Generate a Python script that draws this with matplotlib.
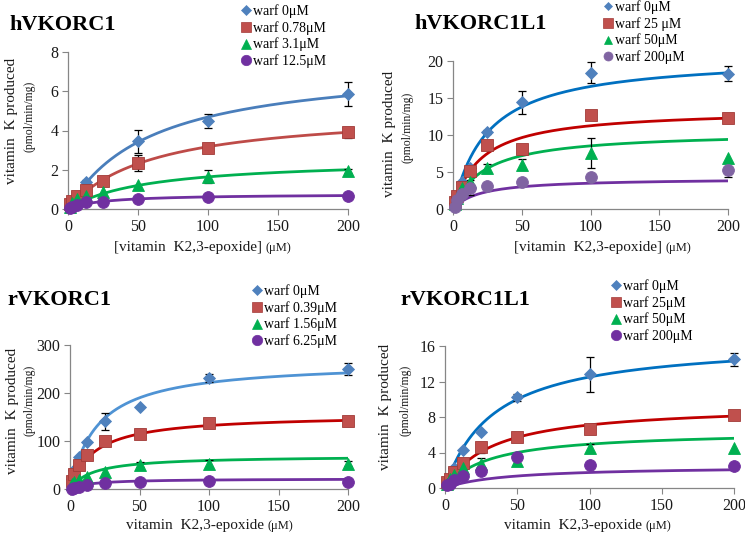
import numpy as np
import matplotlib
matplotlib.use("Agg")
import matplotlib.pyplot as plt
from matplotlib.lines import Line2D

nan = np.nan
plt.rcParams['font.family'] = ['Liberation Serif', 'DejaVu Serif']

# substrate concentrations (uM)
conc = [1.5625, 3.125, 6.25, 12.5, 25, 50, 100, 200]
x_ticks = [0, 50, 100, 150, 200]

# ---- hVKORC1 ----
hv1_labels = ['warf 0μM', 'warf 0.78μM', 'warf 3.1μM', 'warf 12.5μM']
hv1_w0 = [nan, nan, nan, 1.4, nan, 3.45, 4.5, 5.85]
hv1_w0_err = [0, 0, 0, 0.1, 0, 0.6, 0.35, 0.6]
hv1_w078 = [0.25, 0.4, 0.65, 0.98, 1.45, 2.35, 3.1, 3.9]
hv1_w078_err = [0, 0, 0, 0.1, 0.1, 0.4, 0.1, 0.28]
hv1_w31 = [0.1, 0.3, 0.5, 0.65, 0.87, 1.22, 1.65, 1.95]
hv1_w31_err = [0, 0, 0, 0, 0, 0, 0.35, 0.1]
hv1_w125 = [0.05, 0.12, 0.22, 0.35, 0.38, 0.5, 0.6, 0.65]
hv1_w125_err = [0, 0, 0, 0, 0, 0, 0, 0]
hv1_vmax = [7.5, 5.08, 2.57, 0.77]
hv1_km = [60, 60, 57, 25]
hv1_fit_start = [12.5, 2, 3, 1.5]
hv1_yticks = [0, 2, 4, 6, 8]

# ---- hVKORC1L1 ----
hvl1_labels = ['warf 0μM', 'warf 25 μM', 'warf 50μM', 'warf 200μM']
hvl1_w0 = [0.8, 1.8, 3.7, 5.5, 10.4, 14.4, 18.4, 18.3]
hvl1_w0_err = [0, 0, 0, 0, 0.3, 1.6, 1.4, 1.0]
hvl1_w25 = [1.0, 1.8, 3.0, 5.2, 8.7, 8.1, 12.7, 12.3]
hvl1_w25_err = [0, 0, 0, 0, 0, 0, 0, 0]
hvl1_w50 = [0.7, 1.5, 2.8, 3.7, 5.5, 6.0, 7.6, 6.9]
hvl1_w50_err = [0, 0, 0, 0, 0.6, 0.7, 2.0, 0]
hvl1_w200 = [0.3, 1.2, 2.0, 2.9, 3.1, 3.6, 4.3, 5.3]
hvl1_w200_err = [0, 0, 0, 1.0, 0, 0, 0, 1.0]
hvl1_vmax = [20.7, 13.5, 10.46, 4.17]
hvl1_km = [25, 20, 22.6, 19.5]
hvl1_fit_start = [5, 5, 6, 1.5]
hvl1_yticks = [0, 5, 10, 15, 20]

# ---- rVKORC1 ----
rv1_labels = ['warf 0μM', 'warf 0.39μM', 'warf 1.56μM', 'warf 6.25μM']
rv1_w0 = [20, 40, 66, 98, 141, 170, 231, 250]
rv1_w0_err = [0, 0, 0, 0, 18, 0, 8, 12]
rv1_w039 = [17, 31, 49, 71, 99, 115, 138, 141]
rv1_w039_err = [0, 0, 0, 0, 0, 10, 0, 10]
rv1_w156 = [10, 14, 18, 24, 35, 51, 53, 53]
rv1_w156_err = [0, 0, 0, 0, 0, 5, 8, 5]
rv1_w625 = [1, 3, 5, 8, 12, 15, 17, 15]
rv1_w625_err = [0, 0, 0, 0, 0, 0, 0, 0]
rv1_vmax = [266, 155.6, 69.3, 21.5]
rv1_km = [20, 17.7, 16.6, 15]
rv1_fit_start = [5, 2, 2, 2]
rv1_yticks = [0, 100, 200, 300]

# ---- rVKORC1L1 ----
rvl1_labels = ['warf 0μM', 'warf 25μM', 'warf 50μM', 'warf 200μM']
rvl1_w0 = [0.5, 1.0, 2.2, 4.25, 6.3, 10.2, 12.8, 14.5]
rvl1_w0_err = [0, 0, 0, 0, 0, 0.4, 2.0, 0.75]
rvl1_w25 = [0.7, 1.0, 1.8, 2.8, 4.6, 5.75, 6.6, 8.2]
rvl1_w25_err = [0, 0, 0, 0, 0.6, 0, 0, 0]
rvl1_w50 = [0.5, 1.0, 1.5, 2.25, 2.75, 3.05, 4.5, 4.55]
rvl1_w50_err = [0, 0, 0, 0, 0.6, 0, 0.5, 0]
rvl1_w200 = [0.3, 0.5, 0.85, 1.35, 1.95, 3.5, 2.55, 2.48]
rvl1_w200_err = [0, 0, 0, 0, 0, 0, 0, 0]
rvl1_vmax = [16.7, 9.42, 6.46, 2.48]
rvl1_km = [33.5, 32.6, 30.8, 41.8]
rvl1_fit_start = [5, 2, 2, 2]
rvl1_yticks = [0, 4, 8, 12, 16]

W, H = 745, 534
fig = plt.figure(figsize=(W / 100, H / 100), dpi=100)

def px(x, y):
    return (x / W, 1 - y / H)

def add_ax(l, r, t, b):
    return fig.add_axes([l / W, 1 - b / H, (r - l) / W, (b - t) / H])

MARKERS = ['D', 's', '^', 'o']
MSIZE = [6.2, 8.5, 8.5, 8.5]
MCOL = ['#4F81BD', '#C0504D', '#00B050', '#7030A0']
MEC = ['#4F81BD', '#A23B38', '#00B050', '#7030A0']
SPINE = '#868686'

def panel(box, series, errs, vmax, km, fstart, yticks, line_cols, mcols,
          title, title_pos, leg_labels, leg_pos, leg_ms, xlab_main, xlab_unit,
          xlab_pos, ylab_pos, ysmall_pos):
    ax = add_ax(*box)
    xs = np.array(conc)
    for i in range(4):
        xf = np.linspace(fstart[i], 200, 300)
        ax.plot(xf, vmax[i] * xf / (km[i] + xf), color=line_cols[i], lw=2.0,
                zorder=2, solid_capstyle='round')
    for i in range(4):
        y = np.array(series[i], dtype=float)
        e = np.array(errs[i], dtype=float)
        m = (e > 0) & ~np.isnan(y)
        if m.any():
            ax.errorbar(xs[m], y[m], yerr=e[m], fmt='none', ecolor='black',
                        elinewidth=0.9, capsize=2.8, capthick=0.9, zorder=3,
                        clip_on=False)
        ax.plot(xs, y, ls='none', marker=MARKERS[i], ms=MSIZE[i],
                color=mcols[i], mec=MEC[i] if mcols[i] == MCOL[i] else mcols[i],
                mew=0.6, zorder=4 + i, clip_on=False)
    ax.set_xlim(0, 200)
    ax.set_ylim(yticks[0], yticks[-1])
    ax.set_xticks(x_ticks)
    ax.set_yticks(yticks)
    for s in ['top', 'right']:
        ax.spines[s].set_visible(False)
    for s in ['left', 'bottom']:
        ax.spines[s].set_color(SPINE)
        ax.spines[s].set_linewidth(0.9)
    ax.tick_params(direction='out', length=4, width=0.8, color=SPINE,
                   labelsize=11.5, labelcolor='#1a1a1a', pad=3)
    # title
    fig.text(*px(*title_pos), title, fontsize=16, fontweight='bold',
             ha='left', va='center')
    # legend
    handles = [Line2D([], [], ls='none', marker=MARKERS[i],
                      ms=leg_ms[i], color=mcols[i],
                      mec=MEC[i] if mcols[i] == MCOL[i] else mcols[i], mew=0.5)
               for i in range(4)]
    fig.legend(handles, leg_labels, loc='upper left',
               bbox_to_anchor=px(*leg_pos), frameon=False, fontsize=10,
               handlelength=0.7, handletextpad=0.15, labelspacing=0.22,
               borderpad=0, borderaxespad=0)
    # x label
    fig.text(*px(*xlab_pos), xlab_main, fontsize=11, ha='right', va='center',
             color='#1a1a1a')
    fig.text(*px(xlab_pos[0] + 3, xlab_pos[1] + 0.5), xlab_unit, fontsize=9,
             ha='left', va='center', color='#1a1a1a')
    # y label
    fig.text(*px(*ylab_pos), 'vitamin  K produced', fontsize=11,
             rotation=90, ha='center', va='center', color='#1a1a1a')
    fig.text(*px(*ysmall_pos), '(pmol/min/mg)', fontsize=8.5,
             rotation=90, ha='center', va='center', color='#1a1a1a')
    return ax

# Panel 1: hVKORC1
panel((68, 348, 52, 209),
      [hv1_w0, hv1_w078, hv1_w31, hv1_w125],
      [hv1_w0_err, hv1_w078_err, hv1_w31_err, hv1_w125_err],
      hv1_vmax, hv1_km, hv1_fit_start, hv1_yticks,
      ['#4A7EBB', '#BE4B48', '#00B050', '#7030A0'], MCOL,
      'hVKORC1', (9, 25), hv1_labels, (241, 4), [5.5, 7.5, 7, 7.5],
      '[vitamin  K2,3-epoxide]', '(μM)', (262, 248), (12, 121), (30, 116))

# Panel 2: hVKORC1L1
panel((453, 728, 61, 209),
      [hvl1_w0, hvl1_w25, hvl1_w50, hvl1_w200],
      [hvl1_w0_err, hvl1_w25_err, hvl1_w50_err, hvl1_w200_err],
      hvl1_vmax, hvl1_km, hvl1_fit_start, hvl1_yticks,
      ['#0070C0', '#C00000', '#00B050', '#7030A0'],
      ['#4F81BD', '#C0504D', '#00B050', '#8064A2'],
      'hVKORC1L1', (414, 24), hvl1_labels, (603, 0), [4.5, 6.5, 6, 6.5],
      '[vitamin  K2,3-epoxide]', '(μM)', (662, 248), (390, 134), (407, 127))

# Panel 3: rVKORC1
panel((70, 348, 345, 489),
      [rv1_w0, rv1_w039, rv1_w156, rv1_w625],
      [rv1_w0_err, rv1_w039_err, rv1_w156_err, rv1_w625_err],
      rv1_vmax, rv1_km, rv1_fit_start, rv1_yticks,
      ['#4F93D4', '#C00000', '#00B050', '#7030A0'], MCOL,
      'rVKORC1', (7, 300), rv1_labels, (252, 284), [5.5, 7.5, 7, 7.5],
      'vitamin  K2,3-epoxide', '(μM)', (264, 525), (13, 411), (30, 400))

# Panel 4: rVKORC1L1
panel((445, 734, 346, 488),
      [rvl1_w0, rvl1_w25, rvl1_w50, rvl1_w200],
      [rvl1_w0_err, rvl1_w25_err, rvl1_w50_err, rvl1_w200_err],
      rvl1_vmax, rvl1_km, rvl1_fit_start, rvl1_yticks,
      ['#0070C0', '#C00000', '#00B050', '#7030A0'], MCOL,
      'rVKORC1L1', (400, 300), rvl1_labels, (611, 279), [5.5, 7.5, 7, 7.5],
      'vitamin  K2,3-epoxide', '(μM)', (642, 525), (386, 407), (405, 400))

fig.savefig('out.png', dpi=100)
